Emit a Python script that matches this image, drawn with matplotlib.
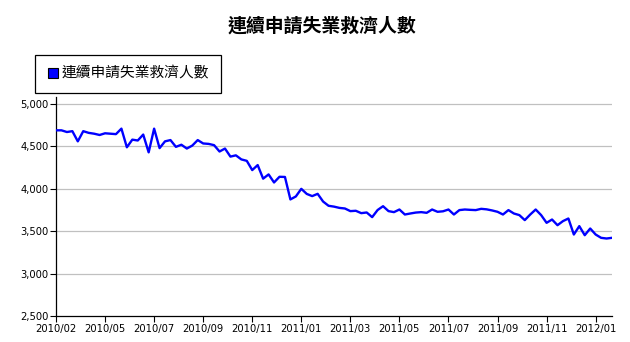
import matplotlib
matplotlib.use('Agg')
import matplotlib.pyplot as plt
from matplotlib.lines import Line2D

plt.rcParams['font.family'] = ['Noto Sans CJK TC', 'DejaVu Sans']

title = '連續申請失業救濟人數'
series_name = '連續申請失業救濟人數'

# weekly continuing claims (thousands)
claims = [
    4690, 4690, 4670, 4680, 4560, 4680, 4660, 4650, 4635, 4655,
    4650, 4645, 4710, 4490, 4580, 4570, 4640, 4430, 4710, 4480,
    4560, 4575, 4495, 4520, 4475, 4510, 4575, 4535, 4530, 4515,
    4440, 4475, 4380, 4395, 4347, 4330, 4221, 4280, 4120, 4170,
    4075, 4142, 4140, 3875, 3910, 4000, 3940, 3914, 3941, 3850,
    3800, 3790, 3775, 3768, 3737, 3741, 3713, 3721, 3666, 3750,
    3795, 3737, 3725, 3756, 3697, 3709, 3720, 3725, 3717, 3756,
    3729, 3735, 3756, 3697, 3749, 3756, 3752, 3749, 3764, 3758,
    3745, 3729, 3697, 3749, 3709, 3690, 3631, 3697, 3756, 3690,
    3599, 3638, 3571, 3619, 3650, 3461, 3560, 3453, 3532, 3461,
    3422, 3414, 3422,
]

tick_labels = ['2010/02', '2010/05', '2010/07', '2010/09', '2010/11', '2011/01',
               '2011/03', '2011/05', '2011/07', '2011/09', '2011/11', '2012/01']
tick_step = 9  # one label every 9 weeks

y_ticks = [2500, 3000, 3500, 4000, 4500, 5000]

fig = plt.figure(figsize=(6.3, 3.42), dpi=100)
ax = fig.add_axes([56 / 630, 26 / 342, 556 / 630, 219 / 342])

x = list(range(len(claims)))
ax.plot(x, claims, color='#0000ff', linewidth=1.7, solid_joinstyle='round',
        solid_capstyle='round', zorder=3)

ax.set_xlim(0, len(claims) - 1)
ax.set_ylim(2500, 5083)
ax.set_yticks(y_ticks)
ax.set_yticklabels([f'{v:,}' for v in y_ticks], family='DejaVu Sans', fontsize=7.2)
ax.set_xticks([i * tick_step for i in range(len(tick_labels))])
ax.set_xticklabels(tick_labels, family='DejaVu Sans', fontsize=7.2)
ax.tick_params(axis='both', direction='out', length=4, width=0.8, color='black', pad=1.5)

for v in y_ticks[1:]:
    ax.axhline(v, color='#c0c0c0', linewidth=0.9, zorder=1)

for s in ['top', 'right']:
    ax.spines[s].set_visible(False)
for s in ['left', 'bottom']:
    ax.spines[s].set_color('black')
    ax.spines[s].set_linewidth(0.9)

fig.text(322 / 630, 1 - 26 / 342, title, ha='center', va='center',
         fontsize=13.6, fontweight='bold')

handle = Line2D([], [], marker='s', linestyle='none', markersize=7,
                markerfacecolor='#0000ff', markeredgecolor='black', markeredgewidth=0.8)
leg = fig.legend([handle], [series_name], loc='upper left',
                 bbox_to_anchor=(35 / 630, 1 - 55 / 342), fontsize=10.6,
                 frameon=True, fancybox=False, framealpha=1, edgecolor='black',
                 handlelength=0.8, handletextpad=0.2, borderpad=0.8, borderaxespad=0)
leg.get_frame().set_linewidth(0.9)

fig.savefig('out.png', dpi=100)
